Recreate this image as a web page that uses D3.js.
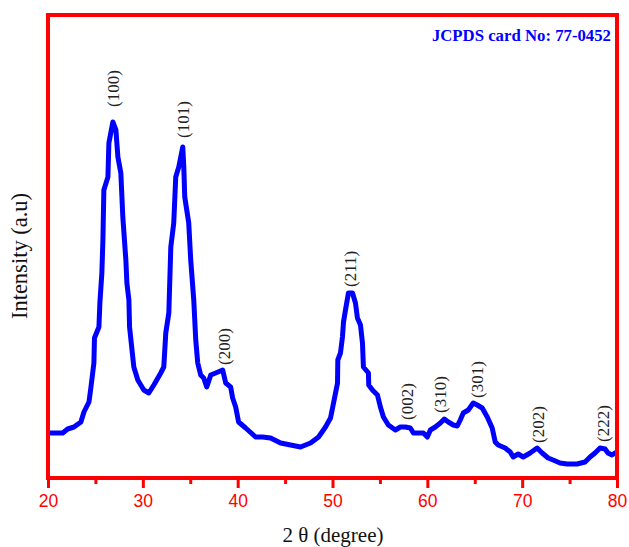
<!DOCTYPE html>
<html>
<head>
<meta charset="utf-8">
<script src="https://cdn.jsdelivr.net/npm/d3@7"></script>
<style>
  body { margin: 0; background: #fff; }
  svg { display: block; }
</style>
</head>
<body>
<svg id="chart" width="629" height="547"></svg>
<script>
// XRD pattern: 2 theta (degree) and intensity (a.u.)
var twoTheta = [20.1, 21.55, 22.07, 22.74, 23.47, 23.79, 24.32, 24.53, 24.84, 24.9, 25.37, 25.47, 25.68, 25.79, 25.89,
  26.32, 26.42, 26.84, 27.16, 27.37, 27.68, 27.89, 28.21, 28.32, 28.53, 28.6, 29.05, 29.47, 30.1, 30.63, 31.16,
  31.89, 32.21, 32.42, 32.74, 32.95, 33.26, 33.47, 33.79, 34.21, 34.32, 34.42, 34.84, 35.05, 35.37, 35.58, 35.79,
  36.1, 36.42, 36.74, 37.16, 37.68, 38.42, 38.74, 39.26, 39.47, 39.79, 40.1, 40.84, 41.89, 42.63, 43.47, 44.53,
  45.58, 46.63, 47.68, 48.53, 49.26, 49.79, 50.11, 50.53, 50.56, 50.84, 51.05, 51.16, 51.37, 51.68, 52.11, 52.42,
  52.63, 52.95, 53.16, 53.26, 53.79, 53.82, 54.21, 54.74, 55.05, 55.37, 55.89, 56.63, 57.16, 57.68, 58.21, 58.53,
  59.05, 59.58, 60.0, 60.32, 60.84, 61.37, 61.79, 62.21, 62.74, 63.16, 63.47, 63.79, 64.32, 64.84, 65.26, 65.79,
  66.32, 66.84, 67.16, 67.47, 68.21, 68.74, 69.05, 69.58, 70.11, 70.84, 71.58, 72.11, 72.74, 73.26, 74.0, 74.74,
  75.79, 76.63, 77.16, 77.68, 78.21, 78.74, 79.05, 79.47, 79.79];
var intensity = [90, 90, 98, 102, 112, 132, 152, 182, 230, 280, 302, 350, 410, 476, 576,
  602, 670, 712, 696, 642, 610, 522, 436, 390, 356, 302, 222, 196, 176, 170, 186,
  210, 222, 290, 330, 462, 510, 602, 622, 662, 622, 562, 510, 436, 356, 276, 230,
  206, 200, 182, 206, 210, 216, 190, 182, 160, 142, 112, 100, 82, 82, 80, 70,
  66, 62, 70, 82, 102, 120, 150, 190, 236, 250, 282, 312, 336, 370, 370, 350,
  320, 306, 270, 222, 210, 186, 176, 166, 142, 122, 106, 96, 102, 102, 100, 90,
  90, 90, 82, 96, 102, 110, 118, 112, 106, 104, 116, 130, 136, 150, 146, 140,
  122, 100, 72, 66, 60, 52, 42, 48, 42, 50, 60, 50, 40, 36, 30, 28,
  28, 32, 42, 50, 60, 58, 50, 46, 50];

// Miller index labels: name, 2 theta and the intensity where the label starts
var peakNames = ['(100)', '(101)', '(200)', '(211)', '(002)', '(310)', '(301)', '(202)', '(222)'];
var peakTheta = [26.84, 34.21, 38.53, 51.9, 57.9, 61.37, 65.26, 71.68, 78.53];
var peakLabelAt = [742, 680, 226, 382, 116, 130, 160, 70, 72];

var xTicks = [20, 30, 40, 50, 60, 70, 80];
var xMinorTicks = [25, 35, 45, 55, 65, 75];

var margin = { top: 15, right: 12, bottom: 69, left: 48 },
  width = 629 - margin.left - margin.right,
  height = 547 - margin.top - margin.bottom;

var svg = d3.select('#chart');
var g = svg.append('g')
  .attr('transform', 'translate(' + margin.left + ',' + margin.top + ')');

var x = d3.scaleLinear().domain([20, 80]).range([0, width]);
var y = d3.scaleLinear().domain([0, 926]).range([height, 0]);

var points = twoTheta.map(function(t, i) { return { t: t, v: intensity[i] }; });

g.append('clipPath').attr('id', 'plotClip')
  .append('rect').attr('width', width).attr('height', height);

var line = d3.line()
  .x(function(d) { return x(d.t); })
  .y(function(d) { return y(d.v); });

g.append('path')
  .datum(points)
  .attr('clip-path', 'url(#plotClip)')
  .attr('fill', 'none')
  .attr('stroke', '#0000ff')
  .attr('stroke-width', 5)
  .attr('stroke-linejoin', 'round')
  .attr('stroke-linecap', 'round')
  .attr('d', line);

// peak labels
g.selectAll('text.hkl')
  .data(peakNames)
  .enter().append('text')
  .attr('class', 'hkl')
  .attr('transform', function(d, i) {
    return 'translate(' + x(peakTheta[i]) + ',' + y(peakLabelAt[i]) + ') rotate(-90)';
  })
  .attr('dy', '0.35em')
  .attr('font-family', '"Liberation Serif", "Times New Roman", serif')
  .attr('font-size', 17)
  .attr('fill', '#222')
  .text(function(d) { return d; });

// x axis
var xAxis = d3.axisBottom(x).tickValues(xTicks).tickSize(10).tickPadding(7)
  .tickFormat(d3.format('d'));
var gx = g.append('g').attr('transform', 'translate(0,' + height + ')').call(xAxis);
gx.select('.domain').remove();
gx.selectAll('line').attr('stroke', '#ff0000').attr('stroke-width', 3);
gx.selectAll('text')
  .attr('fill', '#ff0000')
  .attr('font-family', '"Liberation Sans", Arial, sans-serif')
  .attr('font-size', 17.5);

var xMinor = d3.axisBottom(x).tickValues(xMinorTicks).tickSize(6).tickFormat('');
var gxm = g.append('g').attr('transform', 'translate(0,' + height + ')').call(xMinor);
gxm.select('.domain').remove();
gxm.selectAll('line').attr('stroke', '#ff0000').attr('stroke-width', 3);

// frame
g.append('rect')
  .attr('width', width).attr('height', height)
  .attr('fill', 'none')
  .attr('stroke', '#ff0000')
  .attr('stroke-width', 4);

// card note
g.append('text')
  .attr('x', width - 6).attr('y', 26)
  .attr('text-anchor', 'end')
  .attr('font-family', '"Liberation Serif", "Times New Roman", serif')
  .attr('font-weight', 'bold')
  .attr('font-size', 16.75)
  .attr('fill', '#0000ff')
  .text('JCPDS card No: 77-0452');

// axis titles
svg.append('text')
  .attr('x', 333).attr('y', 542)
  .attr('text-anchor', 'middle')
  .attr('font-family', '"Liberation Serif", "Times New Roman", serif')
  .attr('font-size', 21)
  .attr('fill', '#111')
  .text('2 θ (degree)');

svg.append('text')
  .attr('transform', 'translate(27,256) rotate(-90)')
  .attr('text-anchor', 'middle')
  .attr('font-family', '"Liberation Serif", "Times New Roman", serif')
  .attr('font-size', 22.5)
  .attr('fill', '#111')
  .text('Intensity (a.u)');
</script>
</body>
</html>
